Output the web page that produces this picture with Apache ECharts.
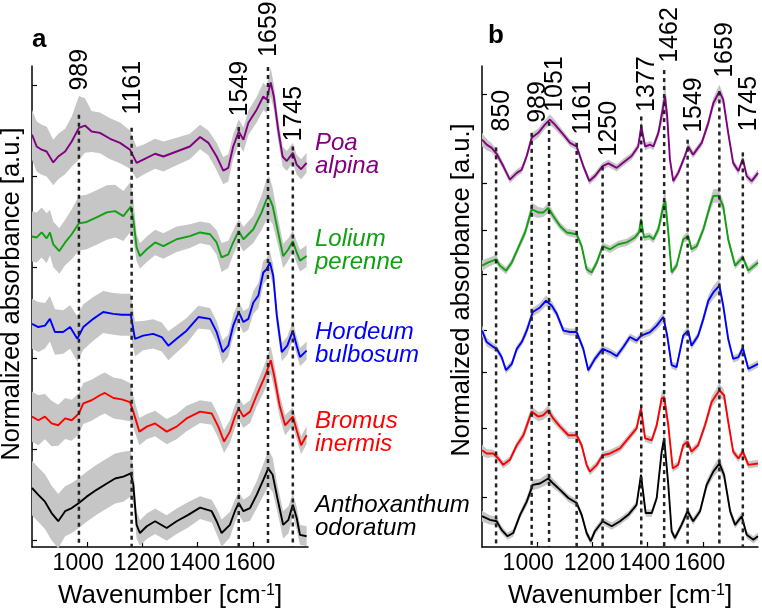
<!DOCTYPE html>
<html><head><meta charset="utf-8">
<script src="https://cdn.jsdelivr.net/npm/echarts@6/dist/echarts.min.js"></script>
<style>html,body{margin:0;padding:0;background:#fff}#c{width:762px;height:614px}</style>
</head><body><div id="c"></div>
<script>
// ---------------- DATA (wavenumber cm-1, normalized absorbance with stacking offset, a.u.) ----------------
// Panel a
const aPoaX = [800,817,835,853,877,895,920,944,970,992,1016,1046,1083,1119,1155,1179,1203,1246,1276,1324,1372,1409,1439,1469,1493,1511,1529,1549,1566,1584,1614,1638,1650,1665,1676,1692,1708,1723,1745,1759,1775,1795];
const aPoaY = [8.92,8.66,8.59,8.55,8.31,8.44,8.55,8.77,9.07,9.12,8.99,8.96,8.83,8.74,8.59,8.30,8.37,8.50,8.44,8.55,8.66,8.87,8.74,8.44,8.13,8.19,8.66,8.99,8.81,9.18,9.47,9.76,9.69,10.07,9.76,9.03,8.44,8.34,8.52,8.26,8.16,8.30];
const aPoaSd = [0.55,0.55,0.55,0.55,0.5,0.5,0.5,0.55,0.7,0.6,0.45,0.45,0.45,0.45,0.42,0.35,0.33,0.33,0.33,0.3,0.28,0.27,0.27,0.3,0.3,0.3,0.27,0.27,0.27,0.27,0.28,0.3,0.3,0.31,0.28,0.25,0.22,0.22,0.22,0.22,0.22,0.22];

const aLolX = [800,817,835,853,865,877,899,920,944,970,998,1034,1071,1101,1131,1158,1167,1179,1191,1216,1246,1276,1324,1372,1409,1445,1469,1487,1511,1529,1549,1566,1602,1632,1650,1660,1672,1692,1710,1729,1745,1759,1771,1795];
const aLolY = [6.68,6.66,6.77,6.64,6.77,6.51,6.36,6.55,6.73,6.97,7.00,7.10,7.21,7.24,7.13,7.34,7.06,6.44,6.25,6.40,6.55,6.47,6.62,6.69,6.77,6.73,6.55,6.22,6.29,6.55,6.80,6.62,6.84,7.21,7.50,7.53,7.35,6.77,6.25,6.40,6.58,6.33,6.15,6.25];
const aLolSd = [0.55,0.55,0.55,0.55,0.5,0.5,0.5,0.5,0.55,0.6,0.6,0.6,0.6,0.58,0.55,0.55,0.45,0.3,0.28,0.28,0.28,0.28,0.28,0.26,0.24,0.24,0.27,0.32,0.3,0.27,0.27,0.27,0.3,0.38,0.45,0.47,0.4,0.3,0.27,0.24,0.24,0.24,0.24,0.24];

const aHorX = [800,823,847,865,883,913,938,964,986,1022,1058,1095,1125,1158,1173,1203,1239,1270,1294,1324,1360,1403,1445,1469,1491,1511,1529,1549,1566,1584,1602,1620,1638,1650,1662,1674,1687,1705,1725,1745,1759,1771,1795];
const aHorY = [4.76,4.69,4.72,4.87,4.58,4.58,4.69,4.43,4.69,4.87,5.02,4.98,4.96,4.96,4.43,4.50,4.54,4.47,4.28,4.43,4.61,4.91,4.87,4.58,4.14,4.28,4.72,5.02,4.80,4.87,5.23,5.38,5.89,5.96,6.11,5.82,4.94,4.14,4.28,4.61,4.28,4.03,4.17];
const aHorSd = [0.55,0.55,0.5,0.5,0.5,0.48,0.48,0.5,0.5,0.48,0.46,0.46,0.46,0.46,0.38,0.32,0.32,0.32,0.32,0.3,0.28,0.25,0.24,0.24,0.26,0.24,0.24,0.24,0.24,0.24,0.25,0.28,0.26,0.24,0.24,0.24,0.22,0.2,0.2,0.2,0.2,0.2,0.2];

const aBroX = [800,823,847,871,895,920,944,970,986,1016,1046,1064,1095,1125,1155,1167,1189,1216,1246,1288,1324,1360,1409,1451,1475,1496,1517,1535,1549,1566,1590,1614,1638,1650,1665,1677,1697,1717,1745,1759,1775,1795];
const aBroY = [2.72,2.64,2.72,2.57,2.53,2.68,2.64,2.79,3.01,3.08,3.19,3.24,3.13,3.10,3.04,2.83,2.39,2.50,2.57,2.39,2.50,2.68,2.83,2.79,2.50,2.17,2.39,2.72,2.90,2.72,2.83,3.19,3.52,3.70,3.96,3.63,2.97,2.53,2.72,2.42,2.09,2.31];
const aBroSd = [0.55,0.55,0.5,0.5,0.45,0.45,0.45,0.45,0.45,0.45,0.45,0.45,0.45,0.45,0.42,0.35,0.3,0.28,0.28,0.28,0.28,0.28,0.25,0.25,0.25,0.25,0.25,0.25,0.25,0.25,0.25,0.25,0.28,0.3,0.3,0.28,0.25,0.22,0.2,0.2,0.2,0.2];

const aAntX = [800,823,847,871,895,920,944,970,998,1034,1071,1101,1131,1158,1167,1179,1191,1216,1246,1288,1324,1366,1409,1451,1469,1487,1517,1535,1549,1566,1590,1614,1638,1656,1672,1689,1710,1729,1745,1759,1771,1795];
const aAntY = [1.15,1.00,0.85,0.60,0.42,0.64,0.71,0.82,0.96,1.11,1.25,1.36,1.40,1.47,1.22,0.34,0.16,0.31,0.42,0.27,0.42,0.56,0.72,0.64,0.42,0.16,0.34,0.64,0.82,0.64,0.71,1.00,1.33,1.58,1.44,0.93,0.34,0.45,0.78,0.49,0.12,0.09];
const aAntSd = [0.6,0.6,0.6,0.6,0.6,0.55,0.55,0.55,0.55,0.55,0.55,0.55,0.55,0.5,0.4,0.3,0.28,0.28,0.28,0.28,0.28,0.28,0.25,0.25,0.28,0.3,0.28,0.25,0.25,0.25,0.28,0.3,0.35,0.4,0.38,0.3,0.3,0.3,0.25,0.25,0.22,0.22];

// Panel b
const bPoaX = [800,817,835,853,877,901,926,944,962,980,1004,1028,1046,1064,1095,1119,1143,1167,1189,1209,1237,1258,1288,1312,1342,1366,1377,1391,1409,1421,1439,1455,1463,1471,1481,1493,1511,1535,1547,1565,1596,1620,1638,1660,1674,1692,1710,1729,1745,1759,1777,1800];
const bPoaY = [8.81,8.70,8.63,8.50,8.23,7.93,8.08,8.15,8.45,8.85,8.96,9.14,9.25,9.14,8.92,8.74,8.66,8.23,7.90,8.01,8.23,8.29,8.19,8.31,8.45,8.66,9.10,8.66,8.70,8.66,8.96,9.48,9.76,9.32,8.37,7.90,8.08,8.45,8.66,8.48,8.74,9.18,9.61,9.87,9.69,8.96,8.30,8.12,8.39,8.01,7.90,8.08];
const bPoaSd = [0.15,0.12,0.1,0.1,0.08,0.08,0.08,0.08,0.08,0.1,0.1,0.1,0.12,0.1,0.08,0.08,0.08,0.08,0.08,0.08,0.08,0.08,0.08,0.08,0.08,0.08,0.15,0.08,0.08,0.08,0.1,0.25,0.35,0.25,0.1,0.08,0.08,0.08,0.1,0.08,0.08,0.1,0.12,0.15,0.12,0.1,0.08,0.08,0.08,0.08,0.08,0.08];

const bLolX = [800,823,851,865,887,908,932,956,980,1004,1022,1040,1058,1083,1107,1143,1161,1179,1197,1216,1237,1264,1294,1324,1354,1369,1376,1387,1406,1421,1439,1457,1464,1475,1487,1505,1529,1547,1559,1578,1602,1626,1638,1656,1674,1692,1717,1745,1765,1800];
const bLolY = [6.04,6.11,6.18,6.04,5.93,6.11,6.44,6.77,7.28,7.21,7.21,7.31,7.13,6.91,6.77,6.73,6.47,5.96,5.89,6.11,6.47,6.40,6.51,6.55,6.66,6.77,7.06,6.66,6.69,6.62,6.84,7.35,7.46,6.77,5.89,6.04,6.62,6.69,6.40,6.47,6.84,7.35,7.57,7.58,7.35,6.62,6.04,6.22,5.93,6.11];
const bLolSd = [0.12,0.1,0.1,0.08,0.08,0.08,0.08,0.1,0.15,0.12,0.1,0.12,0.1,0.08,0.08,0.08,0.08,0.08,0.08,0.08,0.08,0.08,0.08,0.08,0.08,0.08,0.12,0.08,0.08,0.08,0.1,0.2,0.25,0.15,0.08,0.08,0.08,0.1,0.08,0.08,0.1,0.12,0.15,0.15,0.12,0.1,0.08,0.08,0.08,0.08];

const bHorX = [800,817,835,853,871,887,908,926,944,962,984,1010,1032,1053,1071,1095,1119,1143,1167,1185,1209,1237,1264,1288,1312,1336,1360,1377,1409,1433,1457,1471,1487,1505,1529,1547,1559,1583,1602,1620,1638,1660,1674,1692,1710,1729,1745,1765,1800];
const bHorY = [4.61,4.36,4.28,4.21,4.03,3.74,3.88,4.21,4.36,4.61,5.02,5.12,5.27,5.16,4.98,4.61,4.58,4.58,4.21,3.74,3.99,4.21,4.14,4.05,4.25,4.47,4.39,4.50,4.58,4.72,4.91,4.50,3.85,3.81,4.50,4.61,4.28,4.50,4.87,5.27,5.45,5.60,5.16,4.43,3.99,4.03,4.23,3.77,3.88];
const bHorSd = [0.12,0.1,0.08,0.08,0.08,0.08,0.08,0.08,0.08,0.1,0.1,0.1,0.12,0.1,0.08,0.08,0.08,0.08,0.08,0.08,0.08,0.08,0.08,0.08,0.08,0.08,0.08,0.08,0.08,0.1,0.12,0.1,0.08,0.08,0.08,0.1,0.08,0.08,0.1,0.12,0.15,0.15,0.12,0.1,0.08,0.08,0.1,0.08,0.08];

const bBroX = [800,817,841,859,877,901,926,950,980,1004,1022,1040,1058,1083,1113,1143,1161,1179,1191,1216,1237,1264,1300,1330,1360,1376,1391,1415,1433,1451,1460,1475,1491,1511,1529,1545,1559,1583,1608,1632,1660,1677,1692,1710,1729,1745,1765,1800];
const bBroY = [1.98,1.91,1.91,1.80,1.66,1.77,2.09,2.31,2.83,2.72,2.75,2.86,2.68,2.50,2.31,2.31,2.09,1.66,1.51,1.66,1.87,1.91,2.02,2.24,2.46,2.90,2.24,2.20,2.53,3.12,3.15,2.53,1.58,1.66,2.09,2.17,1.95,2.09,2.53,3.04,3.30,3.19,2.61,1.95,1.80,1.95,1.66,1.69];
const bBroSd = [0.12,0.1,0.08,0.08,0.08,0.08,0.08,0.1,0.12,0.1,0.1,0.12,0.1,0.08,0.08,0.08,0.08,0.08,0.08,0.08,0.08,0.08,0.08,0.08,0.08,0.12,0.08,0.08,0.1,0.15,0.18,0.12,0.08,0.08,0.08,0.1,0.08,0.08,0.1,0.12,0.15,0.12,0.1,0.08,0.08,0.08,0.08,0.08];

const bAntX = [800,829,853,871,892,913,938,962,984,1010,1040,1058,1083,1113,1143,1161,1179,1194,1209,1237,1270,1300,1330,1360,1376,1393,1415,1433,1451,1460,1475,1487,1499,1523,1545,1565,1590,1614,1638,1660,1677,1699,1717,1741,1759,1783,1800];
const bAntY = [0.53,0.45,0.42,0.23,0.09,0.16,0.56,0.85,1.22,1.25,1.36,1.25,1.11,0.93,0.82,0.56,0.16,-0.02,0.20,0.42,0.31,0.42,0.56,0.78,1.44,0.60,0.60,0.93,1.95,2.24,1.22,0.20,0.05,0.34,0.64,0.42,0.64,1.22,1.51,1.69,1.44,0.64,0.34,0.53,0.12,0.01,0.09];
const bAntSd = [0.12,0.1,0.1,0.08,0.08,0.08,0.08,0.1,0.12,0.1,0.12,0.1,0.08,0.08,0.08,0.08,0.08,0.08,0.08,0.08,0.08,0.08,0.08,0.08,0.12,0.08,0.08,0.08,0.12,0.15,0.12,0.08,0.08,0.08,0.1,0.08,0.08,0.1,0.12,0.15,0.12,0.1,0.08,0.08,0.08,0.08,0.08];

// Species names and colours
const speciesNames = [['Poa','alpina'],['Lolium','perenne'],['Hordeum','bulbosum'],['Bromus','inermis'],['Anthoxanthum','odoratum']];
const speciesColors = ['#800080','#11a011','#0000ff','#ff0000','#000000'];
const speciesLabelY = [8.47, 6.37, 4.32, 2.36, 0.52];

// Marked band positions (dashed lines) and their labels
const peaksA = [970, 1161, 1549, 1655, 1745];
const peakLabelsA = ['989','1161','1549','1659','1745'];
const peaksB = [851, 980, 1043, 1143, 1237, 1377, 1460, 1545, 1660, 1745];
const peakLabelsB = ['850','989','1051','1161','1250','1377','1462','1549','1659','1745'];

// Axis ticks
const xTicks = [1000, 1200, 1400, 1600];
const yTicksA = [0,1,2,3,4,5,6,7,8,9,10];
const yTicksB = [0.94, 2.46, 3.69, 4.63, 5.85, 6.82, 7.85, 8.81, 9.80];

// ---------------- layout / annotation geometry (not data) ----------------
const lineTopA = [9.36, 9.07, 9.09, 10.41, 8.66];
const labelBaseA = [9.89, 9.36, 9.32, 10.63, 8.77];
const lineTopB = [8.64, 8.96, 9.20, 8.74, 8.22, 9.32, 10.34, 8.81, 9.87, 8.53];
const labelBaseB = [8.99, 9.18, 9.42, 8.92, 8.44, 9.42, 10.50, 8.96, 10.17, 8.99];

const FONT = "'Liberation Sans', Arial, sans-serif";
const YMIN = -0.147, YMAX = 10.43;

const panelA = [[aPoaX,aPoaY,aPoaSd],[aLolX,aLolY,aLolSd],[aHorX,aHorY,aHorSd],[aBroX,aBroY,aBroSd],[aAntX,aAntY,aAntSd]];
const panelB = [[bPoaX,bPoaY,bPoaSd],[bLolX,bLolY,bLolSd],[bHorX,bHorY,bHorSd],[bBroX,bBroY,bBroSd],[bAntX,bAntY,bAntSd]];

function bandSeries(set, gi){
  const [xs, ys, sd] = set;
  return {
    type:'custom', xAxisIndex:gi, yAxisIndex:gi, z:1, silent:true, animation:false,
    data:[[xs[0], ys[0]]],
    renderItem:function(params, api){
      const up = xs.map((w,i)=>api.coord([w, ys[i]+sd[i]]));
      const lo = xs.map((w,i)=>api.coord([w, ys[i]-sd[i]])).reverse();
      return {type:'polygon', shape:{points: up.concat(lo)}, style:{fill:'#c6c6c6', stroke:null}};
    }
  };
}
function lineSeries(set, gi, color){
  const [xs, ys] = set;
  return {
    type:'line', xAxisIndex:gi, yAxisIndex:gi, z:2, showSymbol:false, silent:true, animation:false,
    data: xs.map((w,i)=>[w, ys[i]]),
    lineStyle:{color:color, width:1.9}, itemStyle:{color:color}
  };
}
function peakSeries(peaks, labels, tops, bases, gi, dx){
  return {
    type:'custom', xAxisIndex:gi, yAxisIndex:gi, z:5, silent:true, animation:false, clip:false,
    data: peaks.map((p,i)=>[p, tops[i], bases[i]]),
    renderItem:function(params, api){
      const i = params.dataIndex;
      const p0 = api.coord([peaks[i], tops[i]]);
      const p1 = api.coord([peaks[i], YMIN]);
      const pl = api.coord([peaks[i], bases[i]]);
      return {type:'group', children:[
        {type:'line', shape:{x1:p0[0], y1:p0[1], x2:p1[0], y2:p1[1]},
         style:{stroke:'#222', lineWidth:2.5, lineDash:[4,4]}},
        {type:'text', x:pl[0]+dx, y:pl[1], rotation:Math.PI/2,
         style:{text:labels[i], fill:'#000', font:'25px ' + FONT, textAlign:'left', textVerticalAlign:'middle'}}
      ]};
    }
  };
}
function speciesSeries(){
  return {
    type:'custom', xAxisIndex:0, yAxisIndex:0, z:5, silent:true, animation:false, clip:false,
    data: speciesLabelY.map(v=>[1800, v]),
    renderItem:function(params, api){
      const i = params.dataIndex;
      const p = api.coord([1800, speciesLabelY[i]]);
      return {type:'text', x:p[0]+7, y:p[1],
        style:{text:speciesNames[i].join('\n'), fill:speciesColors[i], font:'italic 24px ' + FONT,
               lineHeight:23, textAlign:'left', textVerticalAlign:'middle'}};
    }
  };
}

function xAxisCfg(gi){
  return {
    type:'value', gridIndex:gi, min:800, max:1800,
    axisLine:{show:true, onZero:false, lineStyle:{color:'#000', width:1.5}},
    axisTick:{show:true, inside:true, length:5, customValues:xTicks, lineStyle:{color:'#000', width:1.2}},
    axisLabel:{show:true, customValues:xTicks, hideOverlap:false, interval:0, color:'#000', fontSize:23, fontFamily:FONT, margin:5,
      formatter:function(v){ return Math.round(v) === 1000 ? '{w|' + Math.round(v) + '}' : '{n|' + Math.round(v) + '}'; },
      rich:{
        w:{fontSize:23, fontFamily:FONT, color:'#000', padding:[0,18,0,0]},
        n:{fontSize:23, fontFamily:FONT, color:'#000', padding:[0,6,0,0]}
      }},
    splitLine:{show:false},
    name:'Wavenumber [cm{sup|-1}]', nameLocation:'middle', nameGap:36, nameMoveOverlap:false,
    nameTextStyle:{color:'#000', fontSize:26, fontFamily:FONT,
      rich:{sup:{fontSize:16, fontFamily:FONT, color:'#000', verticalAlign:'top', lineHeight:26}}}
  };
}
function yAxisCfg(gi, ticks){
  return {
    type:'value', gridIndex:gi, min:YMIN, max:YMAX,
    axisLine:{show:true, onZero:false, lineStyle:{color:'#000', width:1.5}},
    axisTick:{show:true, inside:true, length:5, customValues:ticks, lineStyle:{color:'#000', width:1.2}},
    axisLabel:{show:false},
    splitLine:{show:false}
  };
}

const series = [];
panelA.forEach(s=>series.push(bandSeries(s,0)));
panelB.forEach(s=>series.push(bandSeries(s,1)));
panelA.forEach((s,i)=>series.push(lineSeries(s,0,speciesColors[i])));
panelB.forEach((s,i)=>series.push(lineSeries(s,1,speciesColors[i])));
series.push(peakSeries(peaksA, peakLabelsA, lineTopA, labelBaseA, 0, 1));
series.push(peakSeries(peaksB, peakLabelsB, lineTopB, labelBaseB, 1, 6));
series.push(speciesSeries());

const chart = echarts.init(document.getElementById('c'), null, {renderer:'canvas'});
chart.setOption({
  backgroundColor:'#fff',
  animation:false,
  grid:[{left:32, top:66, width:276, height:483}, {left:482, top:66, width:276, height:483}],
  xAxis:[xAxisCfg(0), xAxisCfg(1)],
  yAxis:[yAxisCfg(0, yTicksA), yAxisCfg(1, yTicksB)],
  series:series,
  graphic:[
    {type:'text', left:32, top:27, style:{text:'a', font:'bold 26px ' + FONT, fill:'#000'}},
    {type:'text', left:488, top:23, style:{text:'b', font:'bold 26px ' + FONT, fill:'#000'}},
    {type:'text', x:25, y:294, rotation:Math.PI/2,
     style:{text:'Normalized absorbance [a.u.]', font:'25.5px ' + FONT, fill:'#000', textAlign:'center', textVerticalAlign:'bottom'}},
    {type:'text', x:475, y:290, rotation:Math.PI/2,
     style:{text:'Normalized absorbance [a.u.]', font:'25.5px ' + FONT, fill:'#000', textAlign:'center', textVerticalAlign:'bottom'}}
  ]
});
</script>
</body></html>
